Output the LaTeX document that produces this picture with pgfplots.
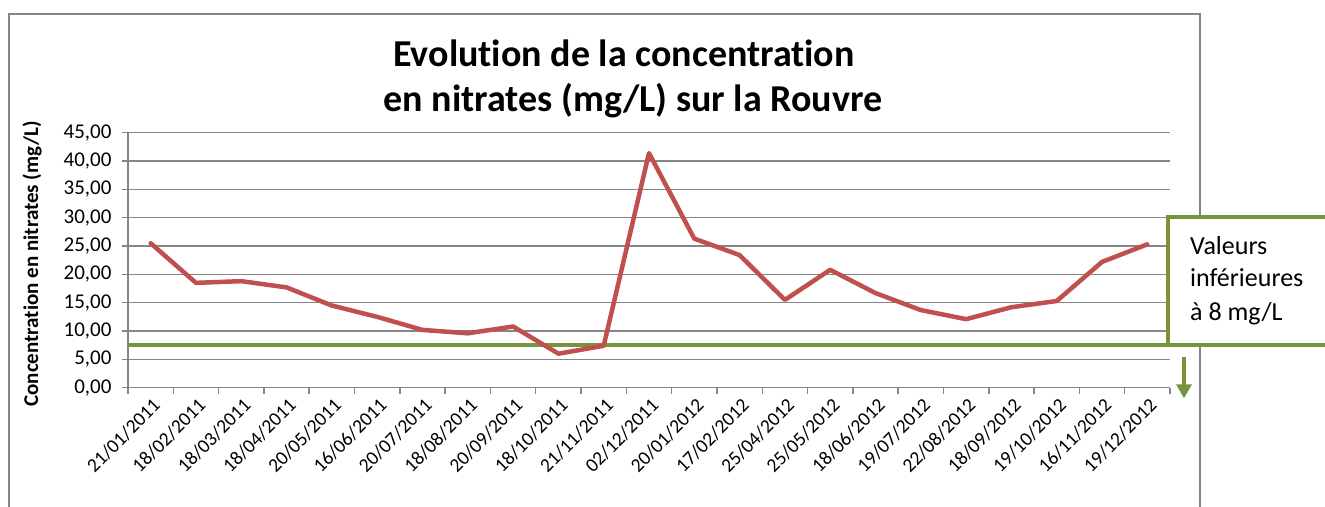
\documentclass[border=0pt]{standalone}
\usepackage{fontspec}
\setmainfont{Carlito}[Ligatures=NoCommon]
\usepackage{pgfplots}
\pgfplotsset{compat=1.18}
\usetikzlibrary{arrows.meta}
\definecolor{exred}{HTML}{C0504D}
\definecolor{exgreen}{HTML}{77933C}
\definecolor{exgrid}{HTML}{868686}

\pgfplotstableread{
idx val
0 25.5
1 18.5
2 18.8
3 17.7
4 14.5
5 12.5
6 10.2
7 9.6
8 10.8
9 6.0
10 7.4
11 41.4
12 26.3
13 23.4
14 15.5
15 20.8
16 16.7
17 13.7
18 12.1
19 14.2
20 15.3
21 22.2
22 25.3
}\nitrates

\begin{document}
\begin{tikzpicture}
\useasboundingbox (-128pt,-118.3pt) rectangle (1197pt,387.7pt);
% cadre du graphique
\draw[exgrid, line width=1.5pt] (-119pt,-140pt) rectangle (1072pt,373.7pt);
\begin{axis}[
    scale only axis,
    width=1042pt, height=255pt,
    xmin=-0.5, xmax=22.5,
    ymin=0, ymax=45,
    clip=false,
    axis x line*=bottom, axis y line*=left,
    axis line style={exgrid, line width=1.5pt, -},
    ytick={0,5,...,45},
    ymajorgrids,
    grid style={exgrid, line width=1.5pt},
    xtick={0,...,22},
    xticklabels={21/01/2011,18/02/2011,18/03/2011,18/04/2011,20/05/2011,16/06/2011,
        20/07/2011,18/08/2011,20/09/2011,18/10/2011,21/11/2011,02/12/2011,
        20/01/2012,17/02/2012,25/04/2012,25/05/2012,18/06/2012,19/07/2012,
        22/08/2012,18/09/2012,19/10/2012,16/11/2012,19/12/2012},
    minor xtick={-0.5,0.5,...,22.5},
    tick align=outside,
    major tick length=6pt, minor tick length=6pt,
    major x tick style={draw=none},
    minor x tick style={exgrid, line width=1.5pt},
    y tick style={exgrid, line width=1.5pt},
    y tick label style={font=\fontsize{21}{25}\selectfont, xshift=-7pt,
        /pgf/number format/fixed, /pgf/number format/fixed zerofill,
        /pgf/number format/precision=2, /pgf/number format/use comma,
        /pgf/number format/assume math mode=true},
    x tick label style={font=\fontsize{19.5}{23}\selectfont, xshift=1pt, yshift=-2pt,
        rotate=45, anchor=north east, inner sep=1pt},
    ylabel={Concentration en nitrates (mg/L)},
    ylabel style={font=\fontsize{21}{25}\selectfont\bfseries,
        at={(axis description cs:-0.092,0.485)}, anchor=center},
]
\addplot[exgreen, line width=4pt] coordinates {(-0.5,7.5) (26.5,7.5)};
\addplot[exred, line width=4.5pt, line join=round, line cap=round] table[x=idx, y=val] {\nitrates};
\end{axis}
% titre
\node[anchor=base, font=\fontsize{38}{45}\selectfont\bfseries] at (496pt,320.7pt) {Evolution de la concentration};
\node[anchor=base, font=\fontsize{38}{45}\selectfont\bfseries] at (505pt,275.7pt) {en nitrates (mg/L) sur la Rouvre};
% encadre
\draw[exgreen, line width=3.5pt, fill=white] (1040pt,42.75pt) rectangle (1215pt,170.7pt);
\node[anchor=base west, inner sep=0pt, font=\fontsize{26}{31}\selectfont] at (1062pt,132.7pt) {Valeurs};
\node[anchor=base west, inner sep=0pt, font=\fontsize{26}{31}\selectfont] at (1062pt,100.7pt) {inférieures};
\node[anchor=base west, inner sep=0pt, font=\fontsize{26}{31}\selectfont] at (1062pt,67pt) {à 8 mg/L};
\draw[exgreen, line width=3.5pt, -{Triangle[width=15pt,length=14pt]}] (1056pt,31pt) -- (1056pt,-10.6pt);
\end{tikzpicture}
\end{document}
